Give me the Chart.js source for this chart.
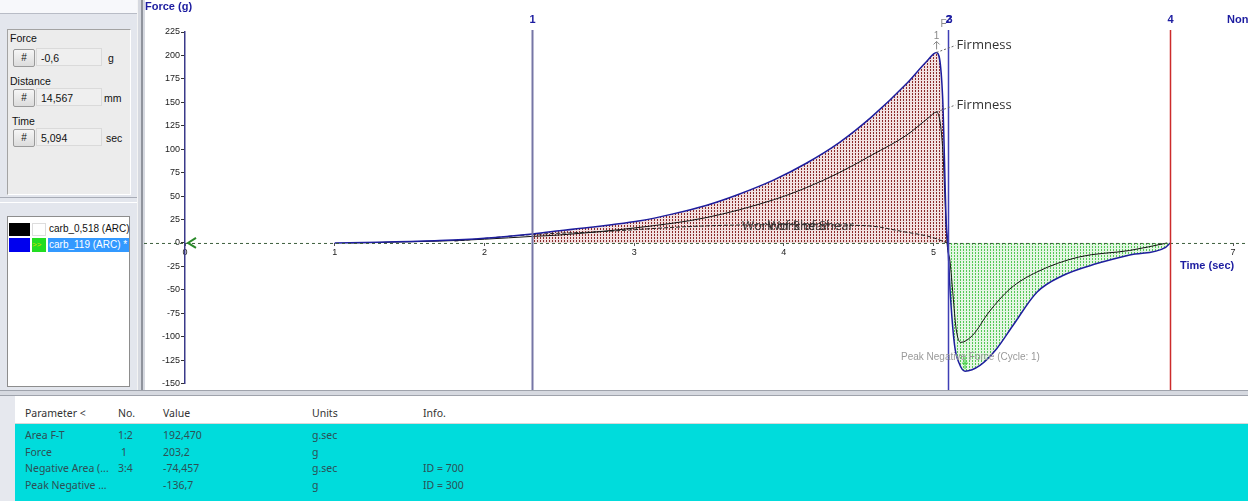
<!DOCTYPE html>
<html>
<head>
<meta charset="utf-8">
<script src="https://cdn.jsdelivr.net/npm/chart.js@4.4.1/dist/chart.umd.min.js"></script>
<style>
  body { margin: 0; width: 1248px; height: 501px; overflow: hidden; background: #fff; position: relative; font-family: "Liberation Sans", Arial, sans-serif; }
  .abs { position: absolute; }
  #left { left: 0; top: 0; width: 137px; height: 392px; background: #e3e6ed; }
  #topband { left: 0; top: 0; width: 137px; height: 13px; background: #f7f8fb; border-bottom: 1px solid #b8bcc6; }
  #readout { left: 7px; top: 29px; width: 122px; height: 164px; background: #ececec; border: 1px solid #a3a3a3; border-right-color: #fff; border-bottom-color: #fff; }
  .lbl { font-size: 10.5px; color: #111; }
  .btn { width: 20px; height: 16px; background: linear-gradient(#f6f6f6, #dcdcdc); border: 1px solid #9a9a9a; border-radius: 2px; font-size: 10px; text-align: center; line-height: 16px; color: #111; }
  .fld { width: 66px; height: 18px; background: #efefef; border: 1px solid #dadada; font-size: 10.5px; line-height: 18px; padding-left: 4px; box-sizing: border-box; color: #111; }
  #sep1 { left: 0; top: 197px; width: 137px; height: 4px; border-top: 1px solid #a8acb6; border-bottom: 1px solid #fff; }
  #legend { left: 7px; top: 216px; width: 121px; height: 169px; background: #fff; border: 1px solid #8d8d8d; }
  .sw { height: 13px; }
  .ltxt { font-size: 10px; line-height: 14px; height: 14px; color: #111; white-space: nowrap; }
  #vbar { left: 137px; top: 0; width: 7px; height: 392px; background: #d6d9e0; border-left: 1px solid #f4f4f4; }
  #vbar div { position: absolute; left: 3px; top: 0; width: 2px; height: 392px; background: #8f939c; }
  #chartBox { left: 144px; top: 0; width: 1104px; height: 390px; }
  #hbar { left: 0; top: 390px; width: 1248px; height: 6px; background: #d6d9e0; border-top: 1px solid #9fa3ac; border-bottom: 1px solid #9fa3ac; box-sizing: border-box; }
  #strip { left: 0; top: 396px; width: 15px; height: 105px; background: #e6e8ee; }
  #table { left: 15px; top: 396px; width: 1233px; height: 105px; background: #00dcdc; font-family: "Noto Sans", sans-serif; font-size: 10.5px; }
  #thead { left: 0; top: 0; width: 1233px; height: 27px; background: #fff; border-bottom: 1px solid #d8d8d8; color: #333; }
  .cell { position: absolute; white-space: nowrap; }
  .row { color: #2d4f55; }
</style>
</head>
<body>
<div id="left" class="abs"></div>
<div id="topband" class="abs"></div>
<div id="readout" class="abs">
  <div class="abs lbl" style="left:2px;top:2px">Force</div>
  <div class="abs btn" style="left:5px;top:19px">#</div>
  <div class="abs fld" style="left:28px;top:18px">-0,6</div>
  <div class="abs lbl" style="left:100px;top:22px">g</div>
  <div class="abs lbl" style="left:2px;top:45px">Distance</div>
  <div class="abs btn" style="left:5px;top:59px">#</div>
  <div class="abs fld" style="left:28px;top:58px">14,567</div>
  <div class="abs lbl" style="left:96px;top:62px">mm</div>
  <div class="abs lbl" style="left:4px;top:85px">Time</div>
  <div class="abs btn" style="left:5px;top:99px">#</div>
  <div class="abs fld" style="left:28px;top:98px">5,094</div>
  <div class="abs lbl" style="left:98px;top:102px">sec</div>
</div>
<div id="sep1" class="abs"></div>
<div id="legend" class="abs">
  <div class="abs sw" style="left:1px;top:6px;width:21px;background:#000"></div>
  <div class="abs sw" style="left:24px;top:6px;width:14px;background:#fff;border:1px solid #ddd;box-sizing:border-box"></div>
  <div class="abs ltxt" style="left:41px;top:5px">carb_0,518 (ARC)</div>
  <div class="abs sw" style="left:1px;top:21px;width:21px;height:14px;background:#0000ee"></div>
  <div class="abs sw" style="left:24px;top:21px;width:14px;height:14px;background:#22dd22;font-size:8px;color:#dddd00;line-height:14px">&gt;&gt;</div>
  <div class="abs ltxt" style="left:40px;top:21px;width:80px;background:#3399ff;color:#fff;padding-left:1px">carb_119 (ARC) *</div>
</div>
<div id="vbar" class="abs"><div></div></div>
<div id="chartBox" class="abs"><canvas id="chart" width="1104" height="390"></canvas></div>
<div id="hbar" class="abs"></div>
<div id="strip" class="abs"></div>
<div id="table" class="abs">
  <div id="thead" class="abs"></div>
</div>

<script>
// blue curve: carb_119 (ARC)
const blueTime = [1.00, 1.30, 1.70, 2.00, 2.32, 2.50, 3.04, 3.26, 3.48, 3.70, 3.93, 4.15, 4.37, 4.59, 4.82, 4.95, 5.02, 5.06, 5.085, 5.095, 5.11, 5.14, 5.17, 5.21, 5.31, 5.42, 5.53, 5.69, 5.86, 6.09, 6.31, 6.55, 6.58];
const blueForce = [0, 0.8, 2.5, 5, 9.6, 13, 23.7, 31, 40, 52, 67, 85, 107, 135, 170, 193, 203.2, 157, 20, 0, -50, -109, -128, -136.7, -130.5, -113, -88, -52.5, -35, -22, -12.8, -4.6, 0];
// black curve: carb_0,518 (ARC)
const blackTime = [1.10, 1.70, 2.00, 2.32, 2.50, 3.04, 3.48, 3.93, 4.15, 4.37, 4.59, 4.82, 4.97, 5.02, 5.06, 5.09, 5.11, 5.13, 5.15, 5.18, 5.26, 5.37, 5.51, 5.69, 5.97, 6.31, 6.56];
const blackForce = [0, 2, 4, 7, 8.5, 16.7, 27, 46, 59, 75, 94, 115, 134, 139.7, 103, 0, -20, -56, -91, -106, -98.6, -73.7, -49, -31, -15, -8, 0];
// work of shear dashed trace
const shearTime = [1.80, 2.32, 2.77, 3.44, 4.00, 4.55, 4.80, 4.99, 5.09];
const shearForce = [2, 9, 12, 18, 19.5, 18.4, 12, 6, 0];
// markers
const markerTimes = [2.32, 5.095, 6.58];
const markerLabels = ['1', '2', '4'];
const markerColors = ['#7676a6', '#3f3fb5', '#cc2b2b'];
// results table
const paramNames = ['Area F-T', 'Force', 'Negative Area (...', 'Peak Negative ...'];
const paramNo = ['1:2', ' 1', '3:4', ''];
const paramValues = ['192,470', '203,2', '-74,457', '-136,7'];
const paramUnits = ['g.sec', 'g', 'g.sec', 'g'];
const paramInfo = ['', '', 'ID = 700', 'ID = 300'];

// table
const table = document.querySelector('#table');
const thead = document.querySelector('#thead');
const colX = [10, 103, 148, 297, 408];
['Parameter <', 'No.', 'Value', 'Units', 'Info.'].forEach((h, i) => {
  const d = document.createElement('div');
  d.className = 'cell';
  d.style.left = colX[i] + 'px';
  d.style.top = '10px';
  d.textContent = h;
  thead.appendChild(d);
});
paramNames.forEach((name, r) => {
  [name, paramNo[r], paramValues[r], paramUnits[r], paramInfo[r]].forEach((txt, i) => {
    const d = document.createElement('div');
    d.className = 'cell row';
    d.style.left = (colX[i] + (i === 1 && txt.startsWith(' ') ? 3 : 0)) + 'px';
    d.style.top = (32 + r * 16.7) + 'px';
    d.textContent = txt.trim();
    table.appendChild(d);
  });
});

const toPoints = (ts, fs) => ts.map((t, i) => ({ x: t, y: fs[i] }));
const inRange = (ts, fs, a, b) => toPoints(ts, fs).filter(p => p.x >= a && p.x <= b);

const makePattern = (dot, bg) => {
  const c = document.createElement('canvas');
  c.width = 3;
  c.height = 3;
  const g = c.getContext('2d');
  g.fillStyle = bg;
  g.fillRect(0, 0, 3, 3);
  g.fillStyle = dot;
  g.fillRect(0, 0, 1, 2);
  return g.createPattern(c, 'repeat');
};
const redHatch = makePattern('#8a2a2a', '#f2e0e0');
const greenHatch = makePattern('#55c855', '#e4f6e4');

const tickFont = { size: 9, family: '"Liberation Sans Narrow", "Arial Narrow", "Liberation Sans", sans-serif' };

const decor = {
  id: 'decor',
  afterDatasetsDraw(chart) {
    const { ctx, scales: { x, y } } = chart;
    const y0 = y.getPixelForValue(0);
    ctx.save();

    // zero line
    ctx.setLineDash([3, 3]);
    ctx.strokeStyle = '#3d5f3d';
    ctx.lineWidth = 1;
    ctx.beginPath();
    ctx.moveTo(0, y0 + 0.5);
    ctx.lineTo(chart.width, y0 + 0.5);
    ctx.stroke();
    ctx.setLineDash([]);

    // markers
    ctx.font = 'bold 11px "Liberation Sans", Arial, sans-serif';
    ctx.textAlign = 'center';
    ctx.textBaseline = 'middle';
    markerTimes.forEach((t, i) => {
      const px = Math.round(x.getPixelForValue(t)) + 0.5;
      ctx.strokeStyle = markerColors[i];
      ctx.lineWidth = i === 0 ? 2 : 1.5;
      ctx.beginPath();
      ctx.moveTo(px, 30);
      ctx.lineTo(px, chart.height);
      ctx.stroke();
      ctx.fillStyle = '#1c1ca0';
      if (i === 1) ctx.fillText('3', px + 1, 20);
      ctx.fillText(markerLabels[i], px, 20);
    });
    ctx.textAlign = 'left';
    ctx.fillText('None', 1083, 20);

    // axis titles
    ctx.fillText('Force (g)', 1, 7);
    ctx.fillText('Time (sec)', 1036, 266);

    // origin chevron
    const ox = x.getPixelForValue(0);
    ctx.strokeStyle = '#2a8a2a';
    ctx.lineWidth = 2;
    ctx.beginPath();
    ctx.moveTo(ox + 11, y0 - 5);
    ctx.lineTo(ox + 3, y0);
    ctx.lineTo(ox + 11, y0 + 5);
    ctx.stroke();

    // firmness annotations
    ctx.font = '13px "Open Sans", sans-serif';
    ctx.fillStyle = '#333';
    ctx.strokeStyle = '#666';
    ctx.lineWidth = 1;
    [[blueTime, blueForce], [blackTime, blackForce]].forEach(([ts, fs]) => {
      const k = fs.indexOf(Math.max(...fs));
      const px = x.getPixelForValue(ts[k]);
      const py = y.getPixelForValue(fs[k]);
      ctx.setLineDash([2, 2]);
      ctx.beginPath();
      ctx.moveTo(px, py);
      ctx.lineTo(px + 19, py - 7);
      ctx.stroke();
      ctx.setLineDash([]);
      ctx.fillText('Firmness', px + 20, py - 7);
    });

    // peak label above blue
    const kb = blueForce.indexOf(Math.max(...blueForce));
    const bx = x.getPixelForValue(blueTime[kb]);
    const by = y.getPixelForValue(blueForce[kb]);
    ctx.font = '10px "Liberation Sans", Arial, sans-serif';
    ctx.fillStyle = '#888';
    ctx.textAlign = 'center';
    ctx.fillText('1', bx, by - 16);
    ctx.fillText('F', bx + 7, by - 28);
    ctx.strokeStyle = '#888';
    ctx.beginPath();
    ctx.moveTo(bx, by - 3);
    ctx.lineTo(bx, by - 11);
    ctx.moveTo(bx - 3, by - 8);
    ctx.lineTo(bx, by - 11);
    ctx.lineTo(bx + 3, by - 8);
    ctx.stroke();

    // work of shear (two overlapping labels)
    ctx.textAlign = 'left';
    ctx.font = '13px "Open Sans", sans-serif';
    ctx.fillStyle = 'rgba(40,40,40,0.85)';
    ctx.fillText('Work of Shear', 598, 226);
    ctx.fillText('Work of Shear', 624, 226);

    // peak negative
    const kn = blueForce.indexOf(Math.min(...blueForce));
    const nx = x.getPixelForValue(blueTime[kn]);
    const ny = y.getPixelForValue(blueForce[kn]);
    ctx.strokeStyle = '#3c3';
    ctx.beginPath();
    ctx.moveTo(nx, ny - 14);
    ctx.lineTo(nx, ny - 2);
    ctx.moveTo(nx - 3, ny - 8);
    ctx.lineTo(nx + 3, ny - 8);
    ctx.stroke();
    ctx.font = '10px "Liberation Sans", Arial, sans-serif';
    ctx.fillStyle = '#999';
    ctx.fillText('Peak Negative Force (Cycle: 1)', 757, 357);

    ctx.restore();
  },
};

const ctx = document.getElementById('chart').getContext('2d');
const forceChart = new Chart(ctx, {
  type: 'line',
  data: {
    datasets: [
      {
        data: toPoints(blueTime, blueForce),
        borderColor: '#1e1e9e',
        borderWidth: 1.5,
        cubicInterpolationMode: 'monotone',
        fill: false,
      },
      {
        data: toPoints(blackTime, blackForce),
        borderColor: '#111',
        borderWidth: 1,
        cubicInterpolationMode: 'monotone',
        fill: false,
      },
      {
        data: toPoints(shearTime, shearForce),
        borderColor: '#222',
        borderWidth: 1,
        borderDash: [4, 2],
        cubicInterpolationMode: 'monotone',
        fill: false,
      },
      {
        data: inRange(blueTime, blueForce, markerTimes[0], markerTimes[1]),
        borderWidth: 0,
        backgroundColor: redHatch,
        cubicInterpolationMode: 'monotone',
        fill: 'origin',
      },
      {
        data: inRange(blueTime, blueForce, markerTimes[1], markerTimes[2]),
        borderWidth: 0,
        backgroundColor: greenHatch,
        cubicInterpolationMode: 'monotone',
        fill: 'origin',
      },
    ],
  },
  options: {
    responsive: false,
    animation: false,
    layout: { padding: { top: 32, bottom: 5, left: 0, right: 0 } },
    elements: { point: { radius: 0 } },
    plugins: { legend: { display: false }, tooltip: { enabled: false } },
    scales: {
      x: {
        type: 'linear',
        position: { y: 0 },
        min: 0,
        max: 7.1,
        ticks: { stepSize: 1, includeBounds: false, font: tickFont, color: '#222', padding: 1, maxRotation: 0 },
        grid: { drawOnChartArea: false, tickLength: 3, color: '#555' },
        border: { display: false },
      },
      y: {
        min: -150,
        max: 225,
        ticks: { stepSize: 25, font: tickFont, color: '#222', padding: 1 },
        grid: { drawOnChartArea: false, tickLength: 4, color: '#333' },
        border: { color: '#3a3a8a', width: 1.5 },
        afterFit: s => { s.width = 41; },
      },
    },
  },
  plugins: [decor],
});
</script>
</body>
</html>
